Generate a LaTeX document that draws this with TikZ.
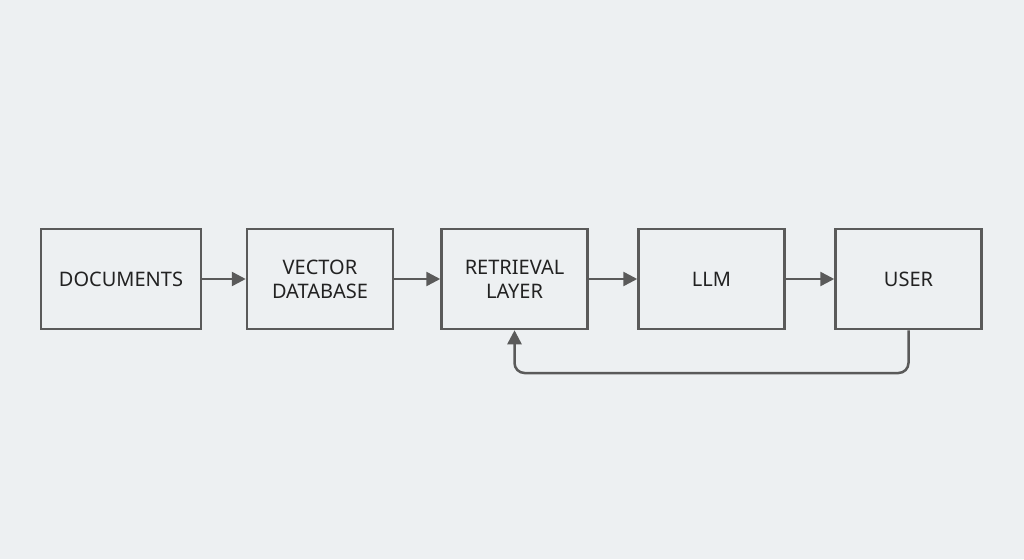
\documentclass[tikz,border=0pt]{standalone}
\usepackage{fontspec}
\setmainfont{Noto Sans}
\usetikzlibrary{arrows.meta}
\definecolor{bg}{HTML}{EDF0F2}
\definecolor{ln}{HTML}{5A5A5A}
\definecolor{tx}{HTML}{222222}
\begin{document}
\begin{tikzpicture}[x=1pt,y=-1pt,
  box/.style={draw=ln,line width=2.5pt,fill=bg,minimum width=146pt,minimum height=100pt,inner sep=0pt,align=center,font=\fontsize{20}{24}\selectfont,text=tx},
  conn/.style={draw=ln,line width=2.5pt,-{Triangle[length=14pt,width=14pt]}}]
\fill[bg] (0,0) rectangle (1024,559);
\useasboundingbox (0,0) rectangle (1024,559);
\node[box,minimum width=160pt] (doc) at (121,279) {DOCUMENTS};
\node[box] (vdb) at (320,279) {VECTOR\\DATABASE};
\node[box] (ret) at (514.5,279) {RETRIEVAL\\LAYER};
\node[box] (llm) at (711.5,279) {LLM};
\node[box] (usr) at (908.5,279) {USER};
\draw[conn] (doc) -- (vdb);
\draw[conn] (vdb) -- (ret);
\draw[conn] (ret) -- (llm);
\draw[conn] (llm) -- (usr);
\coordinate (c1) at (908.5,373);
\coordinate (c2) at (514.5,373);
\draw[conn,rounded corners=10pt] (usr.south) -- (c1) -- (c2) -- (ret.south);
\end{tikzpicture}
\end{document}
